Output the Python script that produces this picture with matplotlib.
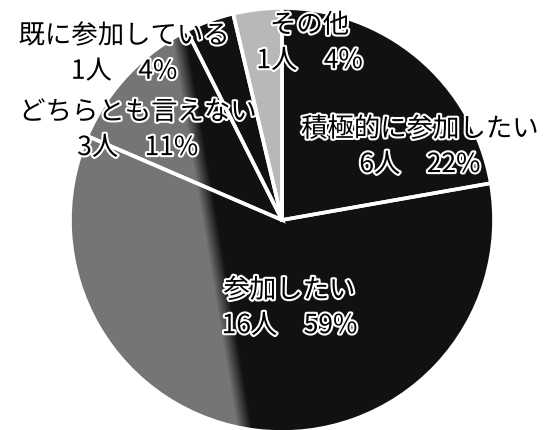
import numpy as np
import matplotlib
matplotlib.use("Agg")
import matplotlib.pyplot as plt
import matplotlib.patheffects as pe

plt.rcParams["font.family"] = ["Noto Sans CJK JP", "DejaVu Sans"]

# survey answers, clockwise from 12 o'clock
labels = ["積極的に参加したい", "参加したい", "どちらとも言えない", "既に参加している", "その他"]
counts = [6, 16, 3, 1, 1]
percents = [22, 59, 11, 4, 4]

# label block centres in pie units (pie radius = 1)
label_pos = [(0.65, 0.345), (0.035, -0.415), (-0.68, 0.425), (-0.745, 0.785), (0.13, 0.835)]
base_colors = ["#151515", "#151515", "#151515", "#151515", "#b8b8b8"]

W, H, DPI = 548, 430, 100
cx_px, cy_px, r_px = 282, 220, 212

fig = plt.figure(figsize=(W / DPI, H / DPI), dpi=DPI)
ax = fig.add_axes([0, 0, 1, 1])

wedges, _ = ax.pie(counts, startangle=90, counterclock=False, colors=base_colors,
                   wedgeprops=dict(linewidth=0, zorder=1))

x0, x1 = -cx_px / r_px, (W - cx_px) / r_px
y0, y1 = -(H - cy_px) / r_px, cy_px / r_px

# scanned look: dark slices fade to grey towards the left
xs = np.linspace(x0, x1, 500)
ys = np.linspace(y0, y1, 400)
X, Y = np.meshgrid(xs, ys)
edge = -0.373 - 0.167 * (Y - 0.189)
t = np.clip((X - edge) / 0.07 + 0.5, 0, 1)
shade = 0.46 * (1 - t) + 0.07 * t
img = np.dstack([shade, shade, shade])
for w, col in zip(wedges, base_colors):
    if col == "#b8b8b8":
        continue
    im = ax.imshow(img, extent=(x0, x1, y0, y1), origin="lower", zorder=2,
                   interpolation="bilinear")
    im.set_clip_path(w)

# white separators on top
ax.pie(counts, startangle=90, counterclock=False,
       wedgeprops=dict(facecolor="none", edgecolor="white", linewidth=2.6, zorder=3))

for name, n, p, (lx, ly) in zip(labels, counts, percents, label_pos):
    ax.text(lx, ly, f"{name}\n{n}人\u3000{p}%", ha="center", va="center",
            fontsize=19, color="black", linespacing=1.4, zorder=5,
            path_effects=[pe.withStroke(linewidth=3, foreground="white")])

ax.set_xlim(x0, x1)
ax.set_ylim(y0, y1)
ax.set_aspect("equal")
ax.axis("off")

fig.savefig("out.png", dpi=DPI)
